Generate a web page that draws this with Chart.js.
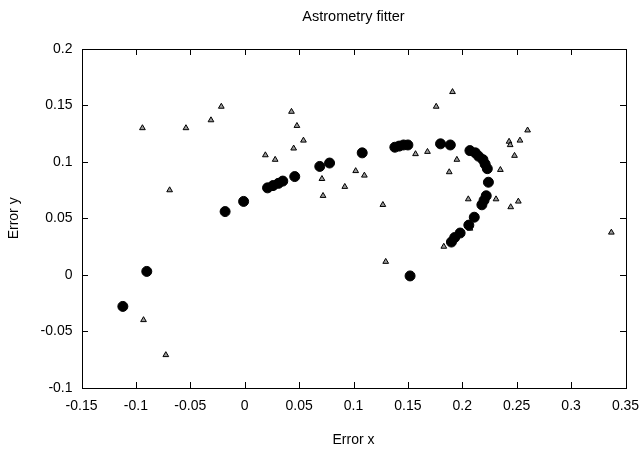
<!DOCTYPE html>
<html>
<head>
<meta charset="utf-8">
<script src="https://cdn.jsdelivr.net/npm/chart.js@4/dist/chart.umd.min.js"></script>
<style>
  html, body { margin: 0; padding: 0; background: #fff; }
  canvas { display: block; }
</style>
</head>
<body>
<canvas id="fitChart" width="641" height="449"></canvas>
<script>
// fitted positions (big dots)
const fitX = [-0.112, -0.090, -0.018, -0.001, 0.021, 0.026, 0.031, 0.035, 0.046, 0.069, 0.078, 0.108,
  0.138, 0.142, 0.146, 0.150, 0.180, 0.189, 0.207, 0.212, 0.215, 0.219, 0.221, 0.223, 0.224,
  0.222, 0.220, 0.218, 0.211, 0.206, 0.198, 0.193, 0.190, 0.152];
const fitY = [-0.028, 0.003, 0.056, 0.065, 0.077, 0.079, 0.081, 0.083, 0.087, 0.096, 0.099, 0.108,
  0.113, 0.114, 0.115, 0.115, 0.116, 0.115, 0.110, 0.108, 0.105, 0.102, 0.098, 0.094, 0.082,
  0.070, 0.066, 0.062, 0.051, 0.044, 0.037, 0.033, 0.029, -0.001];

// raw measurements (small triangles)
const rawX = [-0.094, -0.054, -0.031, -0.0215, 0.019, -0.069, 0.043, 0.048, 0.054, 0.045, 0.028,
  0.071, 0.072, 0.102, 0.110, 0.092, 0.127, 0.157, 0.168, 0.176, 0.188, 0.191, 0.195, 0.235,
  0.243, 0.244, 0.253, 0.260, 0.248, 0.2055, 0.231, 0.2445, 0.2515, 0.207, 0.183, 0.337,
  -0.093, -0.0725, 0.1296];
const rawY = [0.130, 0.130, 0.137, 0.149, 0.106, 0.075, 0.1445, 0.132, 0.119, 0.112, 0.102,
  0.085, 0.070, 0.092, 0.088, 0.078, 0.062, 0.107, 0.109, 0.149, 0.091, 0.162, 0.102, 0.093,
  0.118, 0.115, 0.119, 0.128, 0.1055, 0.067, 0.067, 0.060, 0.065, 0.041, 0.025, 0.0375,
  -0.040, -0.071, 0.0116];

const xTicks = { min: -0.15, max: 0.35, step: 0.05 };
const yTicks = { min: -0.1, max: 0.2, step: 0.05 };

const font = { family: '"Liberation Sans", Arial, sans-serif', size: 14 };

function toPoints(xs, ys) {
  return xs.map((x, i) => ({ x: x, y: ys[i] }));
}

function fmt(v) {
  return String(+(+v).toFixed(2));
}

// box round the plot with inward ticks on all four sides (gnuplot look)
const frame = {
  id: 'plotFrame',
  afterDraw(chart) {
    const ctx = chart.ctx;
    const a = chart.chartArea;
    const xs = chart.scales.x, ys = chart.scales.y;
    const L = Math.round(a.left), R = Math.round(a.right);
    const T = Math.round(a.top), B = Math.round(a.bottom);
    const len = 6;
    ctx.save();
    ctx.fillStyle = '#000';
    ctx.fillRect(L, T, R - L + 1, 1);
    ctx.fillRect(L, B, R - L + 1, 1);
    ctx.fillRect(L, T, 1, B - T + 1);
    ctx.fillRect(R, T, 1, B - T + 1);
    for (const t of xs.ticks) {
      const p = Math.round(xs.getPixelForValue(t.value));
      ctx.fillRect(p, B - len, 1, len);
      ctx.fillRect(p, T, 1, len);
    }
    for (const t of ys.ticks) {
      const p = Math.round(ys.getPixelForValue(t.value));
      ctx.fillRect(L, p, len, 1);
      ctx.fillRect(R - len, p, len, 1);
    }
    ctx.restore();
  }
};

new Chart(document.getElementById('fitChart').getContext('2d'), {
  type: 'scatter',
  data: {
    datasets: [{
      label: 'fit',
      data: toPoints(fitX, fitY),
      pointStyle: 'circle',
      pointRadius: 5,
      pointBorderWidth: 1,
      backgroundColor: '#000',
      borderColor: '#000'
    }, {
      label: 'raw',
      data: toPoints(rawX, rawY),
      pointStyle: 'triangle',
      pointRadius: 3.3,
      pointBorderWidth: 1,
      backgroundColor: '#999',
      borderColor: '#000'
    }]
  },
  options: {
    responsive: false,
    animation: false,
    layout: { padding: { left: 0, right: 15.5, top: 0, bottom: 0 } },
    plugins: {
      legend: { display: false },
      tooltip: { enabled: false },
      title: {
        display: true,
        fullSize: false,
        text: 'Astrometry fitter',
        color: '#000',
        font: { family: font.family, size: 14.5, weight: 'normal' },
        padding: { top: 8.7, bottom: 22.9 }
      }
    },
    scales: {
      x: {
        type: 'linear',
        min: xTicks.min,
        max: xTicks.max,
        grid: { display: false, drawTicks: false },
        border: { display: false },
        ticks: { stepSize: xTicks.step, callback: fmt, color: '#000', font: font, padding: 10.5, maxRotation: 0, autoSkip: false },
        title: { display: true, text: 'Error x', color: '#000', font: font, padding: { top: 0, bottom: 0 } },
        afterFit(s) { s.height = 61.3; s.paddingLeft = 0; s.paddingRight = 0; }
      },
      y: {
        type: 'linear',
        min: yTicks.min,
        max: yTicks.max,
        grid: { display: false, drawTicks: false },
        border: { display: false },
        ticks: { stepSize: yTicks.step, callback: fmt, color: '#000', font: font, padding: 9, autoSkip: false },
        title: { display: true, text: 'Error y', color: '#000', font: font, padding: { top: 6, bottom: 0 } },
        afterFit(s) { s.width = 81.5; s.paddingTop = 0; s.paddingBottom = 0; }
      }
    }
  },
  plugins: [frame]
});
</script>
</body>
</html>
